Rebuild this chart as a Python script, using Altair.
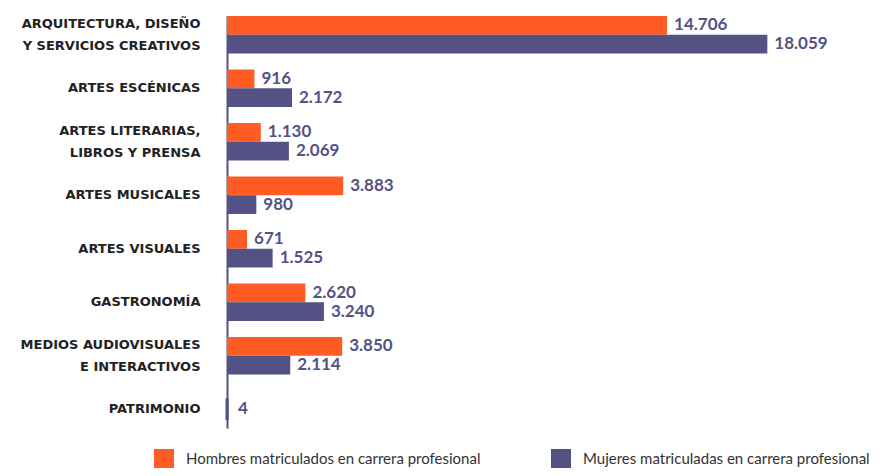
import altair as alt
import pandas as pd

categorias = [
    "ARQUITECTURA, DISEÑO|Y SERVICIOS CREATIVOS",
    "ARTES ESCÉNICAS",
    "ARTES LITERARIAS,|LIBROS Y PRENSA",
    "ARTES MUSICALES",
    "ARTES VISUALES",
    "GASTRONOMÍA",
    "MEDIOS AUDIOVISUALES|E INTERACTIVOS",
    "PATRIMONIO",
]
hombres = [14706, 916, 1130, 3883, 671, 2620, 3850, 0]
mujeres = [18059, 2172, 2069, 980, 1525, 3240, 2114, 4]
series = [
    "Hombres matriculados en carrera profesional",
    "Mujeres matriculadas en carrera profesional",
]
colores = ["#FF5C24", "#545284"]


def fmt(v):
    return f"{v:,}".replace(",", ".")


pair_rows, single_rows = [], []
for c, h, m in zip(categorias, hombres, mujeres):
    vals = [(series[0], h), (series[1], m)]
    nonzero = [(s, v) for s, v in vals if v > 0]
    target = pair_rows if len(nonzero) == 2 else single_rows
    for s, v in nonzero:
        target.append({"categoria": c, "serie": s, "valor": v, "etiqueta": fmt(v)})

df_pair = pd.DataFrame(pair_rows)
df_single = pd.DataFrame(single_rows)

y_enc = alt.Y(
    "categoria:N",
    sort=categorias,
    scale=alt.Scale(paddingInner=0.3, paddingOuter=0),
    axis=alt.Axis(
        title=None,
        ticks=False,
        domainColor="#545284",
        domainWidth=2,
        labelFont="DejaVu Sans",
        labelFontWeight="bold",
        labelFontSize=13,
        labelColor="#222222",
        labelPadding=27,
        labelLimit=400,
        labelLineHeight=22,
        labelExpr="split(datum.label, '|')",
        labelOffset={"condition": {"test": "indexof(datum.value, '|') >= 0", "value": -11}, "value": 0},
    ),
)
x_enc = alt.X("valor:Q", scale=alt.Scale(domain=[0, 21490], nice=False), axis=None)
color_scale = alt.Scale(domain=series, range=colores)
color_enc = alt.Color(
    "serie:N",
    scale=color_scale,
    legend=alt.Legend(
        title=None,
        orient="none",
        legendX=-73,
        legendY=433,
        direction="horizontal",
        symbolType="square",
        symbolSize=400,
        symbolStrokeWidth=0,
        symbolOpacity=1,
        labelFont="Lato",
        labelFontSize=15,
        labelColor="#333333",
        labelOffset=12,
        labelLimit=500,
        columnPadding=70,
    ),
)

bars_pair = alt.Chart(df_pair).mark_bar().encode(
    y=y_enc, x=x_enc, yOffset=alt.YOffset("serie:N", sort=series), color=color_enc
)
bars_single = alt.Chart(df_single).mark_bar(height={"band": 0.5}, strokeWidth=3).encode(
    y=y_enc,
    x=x_enc,
    color=alt.Color("serie:N", scale=color_scale, legend=None),
    stroke=alt.Stroke("serie:N", scale=color_scale, legend=None),
)
text_style = dict(align="left", baseline="middle", font="Lato", fontWeight="bold", fontSize=17, color="#545284")
text_pair = alt.Chart(df_pair).mark_text(dx=7, **text_style).encode(
    y=y_enc, x=x_enc, yOffset=alt.YOffset("serie:N", sort=series), text="etiqueta:N"
)
text_single = alt.Chart(df_single).mark_text(dx=11, **text_style).encode(
    y=y_enc, x=x_enc, text="etiqueta:N"
)

chart = (
    alt.layer(bars_pair, bars_single, text_pair, text_single)
    .properties(
        width=643,
        height=412,
        autosize=alt.AutoSizeParams(type="none"),
        padding={"left": 219, "top": 8, "right": 11, "bottom": 40},
    )
    .configure_view(stroke=None)
)

chart.save("out.html", embed_options={"renderer": "svg", "actions": False})
